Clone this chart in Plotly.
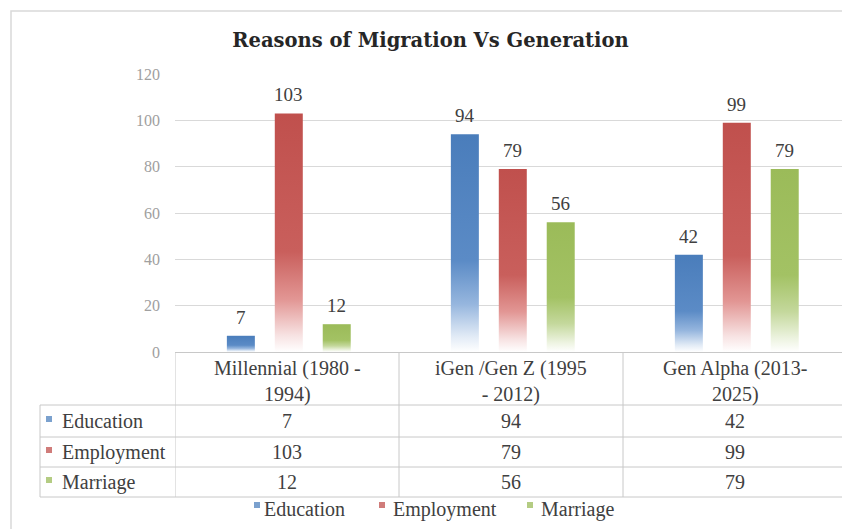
import plotly.graph_objects as go

# ---------------- data ----------------
categories = ["Millennial (1980 - 1994)", "iGen /Gen Z (1995 - 2012)", "Gen Alpha (2013-2025)"]
header_labels = ["Millennial (1980 -<br>1994)", "iGen /Gen Z (1995<br>- 2012)", "Gen Alpha (2013-<br>2025)"]
series_names = ["Education", "Employment", "Marriage"]
education = [7, 94, 42]
employment = [103, 79, 99]
marriage = [12, 56, 79]
y_ticks = [0, 20, 40, 60, 80, 100, 120]
title_text = "Reasons of Migration Vs Generation"

# ---------------- style ----------------
colors = ["#4f81bd", "#c0504d", "#9bbb59"]
tints = [
    ["rgba(255,255,255,1)", "rgba(226,235,246,1)", "rgba(150,182,222,1)", "#5b8bc6", "#4a7dbb"],
    ["rgba(255,255,255,1)", "rgba(247,226,226,1)", "rgba(226,150,148,1)", "#c95f5c", "#c0504d"],
    ["rgba(255,255,255,1)", "rgba(238,244,226,1)", "rgba(196,216,156,1)", "#a3c264", "#9bbb59"],
]
stops = [0.0, 0.07, 0.22, 0.42, 1.0]
FONT = "Liberation Serif, Times New Roman, serif"
TXT = "#404040"
LINE = "#c8c8c8"

OFF = 8  # page body margin
W_PX, H_PX = 850 - OFF, 529 - OFF
L, R, T, B = 175 - OFF, 3, 74 - OFF, 177
PW = W_PX - L - R
PH = H_PX - T - B
BASE = 352


def px(x):
    # reference-image x pixel -> paper coordinate
    return (x - 175) / PW


def py(y):
    # reference-image y pixel -> paper coordinate
    return (BASE - y) / PH


bar_width = 0.125
spacing = 0.214
shift = 0.008
offsets = [-spacing + shift, shift, spacing + shift]

all_series = [education, employment, marriage]

fig = go.Figure()
annotations = []
shapes = []

for s, (name, vals) in enumerate(zip(series_names, all_series)):
    cs = [[st, c] for st, c in zip(stops, tints[s])]
    for i, v in enumerate(vals):
        xc = i + offsets[s]
        xl, xr = xc - bar_width / 2, xc + bar_width / 2
        fig.add_trace(go.Scatter(
            x=[xl, xr, xr, xl, xl], y=[0, 0, v, v, 0],
            mode="lines", line=dict(width=0), fill="toself",
            fillgradient=dict(type="vertical", colorscale=cs, start=0, stop=v),
            showlegend=False, hoverinfo="skip", name=name,
        ))
        annotations.append(dict(
            x=xc, y=v, xref="x", yref="y", text=str(v), showarrow=False,
            yanchor="bottom", yshift=6, font=dict(family=FONT, size=19, color=TXT),
        ))

# table header labels
for i, lab in enumerate(header_labels):
    annotations.append(dict(
        x=i, y=py(381), xref="x", yref="paper", text=lab, showarrow=False,
        xanchor="center", yanchor="middle", font=dict(family=FONT, size=20, color=TXT),
    ))

row_centers = [421, 452, 482]
for s, (name, vals) in enumerate(zip(series_names, all_series)):
    yc = row_centers[s]
    annotations.append(dict(
        x=px(60), y=py(yc), xref="paper", yref="paper", text=name, showarrow=False,
        xanchor="left", yanchor="middle", font=dict(family=FONT, size=20, color=TXT),
    ))
    shapes.append(dict(type="rect", xref="paper", yref="paper",
                       x0=px(46), x1=px(52), y0=py(yc + 1), y1=py(yc - 5),
                       fillcolor=colors[s], line=dict(width=0), opacity=0.75))
    for i, v in enumerate(vals):
        annotations.append(dict(
            x=i, y=py(yc), xref="x", yref="paper", text=str(v), showarrow=False,
            xanchor="center", yanchor="middle", font=dict(family=FONT, size=20, color=TXT),
        ))

# table lines
for yl in [405, 437, 467, 497]:
    shapes.append(dict(type="line", xref="paper", yref="paper",
                       x0=px(40), x1=1, y0=py(yl), y1=py(yl), line=dict(color=LINE, width=1)))
shapes.append(dict(type="line", xref="paper", yref="paper",
                   x0=px(40), x1=px(40), y0=py(405), y1=py(497), line=dict(color=LINE, width=1)))
for xb in [-0.5, 0.5, 1.5, 2.5]:
    shapes.append(dict(type="line", xref="x", yref="paper",
                       x0=xb, x1=xb, y0=0, y1=py(497), line=dict(color=LINE, width=1)))

# legend (manual)
legend_items = [(254, 262), (379, 391), (527, 539)]
for s, name in enumerate(series_names):
    sx, tx = legend_items[s]
    shapes.append(dict(type="rect", xref="paper", yref="paper",
                       x0=px(sx), x1=px(sx + 6), y0=py(508), y1=py(502),
                       fillcolor=colors[s], line=dict(width=0), opacity=0.75))
    annotations.append(dict(
        x=px(tx), y=py(509), xref="paper", yref="paper", text=name, showarrow=False,
        xanchor="left", yanchor="middle", font=dict(family=FONT, size=20, color=TXT),
    ))

# outer border
shapes.append(dict(type="rect", xref="paper", yref="paper",
                   x0=px(11), x1=px(847), y0=py(530), y1=py(11),
                   line=dict(color="#d9d9d9", width=1.5), fillcolor="rgba(0,0,0,0)", layer="below"))

fig.update_layout(
    width=W_PX, height=H_PX,
    margin=dict(l=L, r=R, t=T, b=B, pad=0),
    paper_bgcolor="white", plot_bgcolor="white",
    title=dict(text="<b>" + title_text + "</b>", x=(430.5 - OFF) / W_PX, xanchor="center",
               xref="container", y=1 - (40 - OFF) / H_PX, yref="container", yanchor="middle",
               font=dict(family="DejaVu Serif", size=19.5, color="#262626")),
    xaxis=dict(range=[-0.5, 2.5], showticklabels=False, showgrid=False, zeroline=False,
               showline=True, linecolor=LINE, linewidth=1, fixedrange=True),
    yaxis=dict(range=[0, 120], tickvals=y_ticks, showgrid=True, gridcolor="#d9d9d9",
               gridwidth=1, zeroline=False, showline=False, ticks="",
               ticklabelstandoff=14,
               tickfont=dict(family=FONT, size=16, color="#a0a0a0")),
    annotations=annotations, shapes=shapes, showlegend=False,
)

fig.write_html("out.html")
